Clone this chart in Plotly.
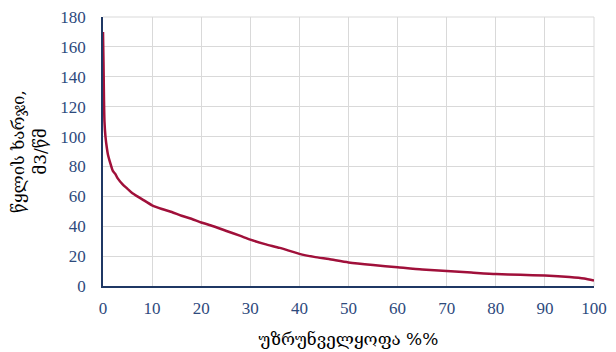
import plotly.graph_objects as go

# ── Data ─────────────────────────────────────────────────────────────────────
exceedance_pct = [0, 0.1, 0.2, 0.3, 0.5, 0.8, 1, 1.5, 2, 2.5, 3, 4, 5, 6, 7, 8,
                  10, 12, 14, 16, 18, 20, 22, 25, 28, 30, 33, 36, 40, 43, 46,
                  50, 55, 60, 65, 70, 75, 80, 85, 90, 95, 98, 100]
discharge = [170, 150, 125, 110, 100, 92, 88, 82, 77, 75, 72, 68, 65, 62, 60, 58,
             54, 51.5, 49.5, 47, 45, 42.5, 40.5, 37, 33.5, 31, 28, 25.5, 21.5, 19.5, 18,
             15.8, 14, 12.5, 11, 10, 9, 8, 7.5, 7, 6, 5, 3.6]

x_title = "უზრუნველყოფა %%"
y_title = "წყლის ხარჯი,<br>მ3/წმ"

# ── Styling ──────────────────────────────────────────────────────────────────
LINE = "#A0103A"
AXIS = "#1F3864"
TICK = "#2E4A7D"
GRID = "#D9D9D9"
TITLE_FONT = dict(family="DejaVu Serif, serif", size=17, color="black")

# the page body has an 8px margin, so the figure is sized to fit inside it
fig = go.Figure()
fig.add_trace(
    go.Scatter(
        x=exceedance_pct,
        y=discharge,
        mode="lines",
        line=dict(color=LINE, width=2.5, shape="spline", smoothing=0.6),
        showlegend=False,
    )
)

# plotly clips gridlines at the range ends, so draw the top/right ones by hand
fig.add_shape(type="line", xref="paper", yref="paper", x0=0, x1=1, y0=1, y1=1,
              line=dict(color=GRID, width=1), layer="below")
fig.add_shape(type="line", xref="paper", yref="paper", x0=1, x1=1, y0=0, y1=1,
              line=dict(color=GRID, width=1), layer="below")

fig.update_layout(
    width=608,
    height=344,
    paper_bgcolor="white",
    plot_bgcolor="white",
    margin=dict(l=95, r=22, t=9, b=66),
    font=dict(family="Liberation Serif, serif", size=17, color=TICK),
    xaxis=dict(
        range=[0, 100],
        dtick=10,
        automargin=False,
        showgrid=True,
        gridcolor=GRID,
        gridwidth=1,
        zeroline=False,
        showline=True,
        linecolor=AXIS,
        linewidth=1.5,
        ticks="",
        ticklabelstandoff=6,
        ticklabeloverflow="allow",
        tickfont=dict(size=17, color=TICK),
        title=dict(text=x_title, font=TITLE_FONT, standoff=16),
    ),
    yaxis=dict(
        range=[0, 180],
        dtick=20,
        automargin=False,
        showgrid=True,
        gridcolor=GRID,
        gridwidth=1,
        zeroline=False,
        showline=True,
        linecolor=AXIS,
        linewidth=1.5,
        ticks="",
        ticklabelstandoff=12,
        ticklabeloverflow="allow",
        tickfont=dict(size=17, color=TICK),
        title=dict(text=y_title, font=TITLE_FONT, standoff=16),
    ),
)

fig.write_html("out.html")
